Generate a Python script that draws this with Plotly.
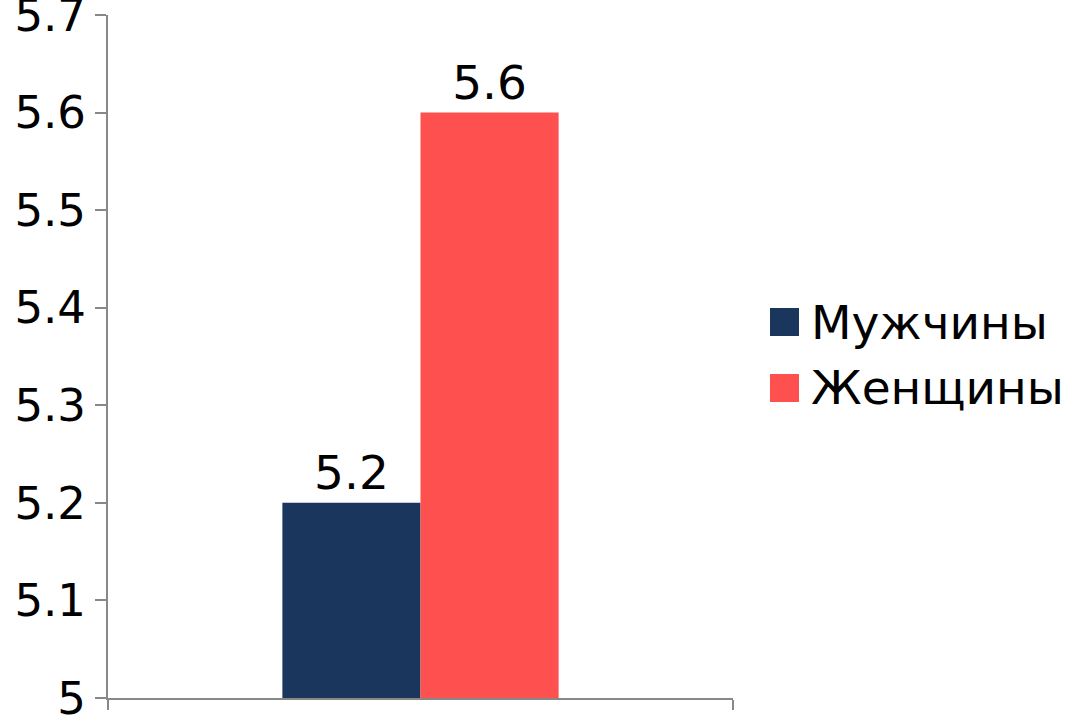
import plotly.graph_objects as go

categories = [""]
series_names = ["Мужчины", "Женщины"]
series_values = [[5.2], [5.6]]
series_colors = ["#1A365D", "#FF5050"]
y_ticks = [5.0, 5.1, 5.2, 5.3, 5.4, 5.5, 5.6, 5.7]
y_tick_labels = ["5", "5.1", "5.2", "5.3", "5.4", "5.5", "5.6", "5.7"]

FONT = "DejaVu Sans"

fig = go.Figure()
for name, vals, col in zip(series_names, series_values, series_colors):
    fig.add_trace(go.Bar(
        x=categories, y=vals, name=name, marker=dict(color=col, line=dict(width=0)),
        text=[f"{v:.1f}" for v in vals], textposition="outside",
        textfont=dict(family=FONT, size=47, color="black"), cliponaxis=False,
        showlegend=False,
    ))

# manual legend (large square swatches)
leg_y = [0.5505, 0.4539]
for name, col, yy in zip(series_names, series_colors, leg_y):
    fig.add_shape(type="rect", xref="paper", yref="paper",
                  x0=1.0592, x1=1.0592 + 29 / 625, y0=yy - 14 / 683, y1=yy + 14 / 683,
                  fillcolor=col, line=dict(width=0))
    fig.add_annotation(x=1.0592 + 39 / 625, y=yy, xref="paper", yref="paper",
                       text=name, showarrow=False, xanchor="left", yanchor="middle",
                       font=dict(family=FONT, size=47, color="black"))

fig.update_layout(
    width=1072, height=715,
    margin=dict(l=108, r=339, t=15, b=17, autoexpand=False),
    paper_bgcolor="white", plot_bgcolor="white",
    barmode="group", bargap=0.558, bargroupgap=0,
    font=dict(family=FONT, size=45, color="black"),
    xaxis=dict(range=[-0.5, 0.5], showline=True, linecolor="#888888", linewidth=2,
               ticks="outside", tickson="boundaries", ticklen=10, tickcolor="#888888",
               tickwidth=2, showgrid=False, zeroline=False, showticklabels=False,
               automargin=False),
    yaxis=dict(range=[5.0, 5.7], tickvals=y_ticks, ticktext=y_tick_labels,
               showline=True, linecolor="#888888", linewidth=2, ticks="outside",
               ticklen=11, tickcolor="#888888", tickwidth=2, showgrid=False,
               zeroline=False, automargin=False, ticklabeloverflow="allow",
               tickfont=dict(family=FONT, size=45, color="black")),
)

fig.write_html("out.html")
